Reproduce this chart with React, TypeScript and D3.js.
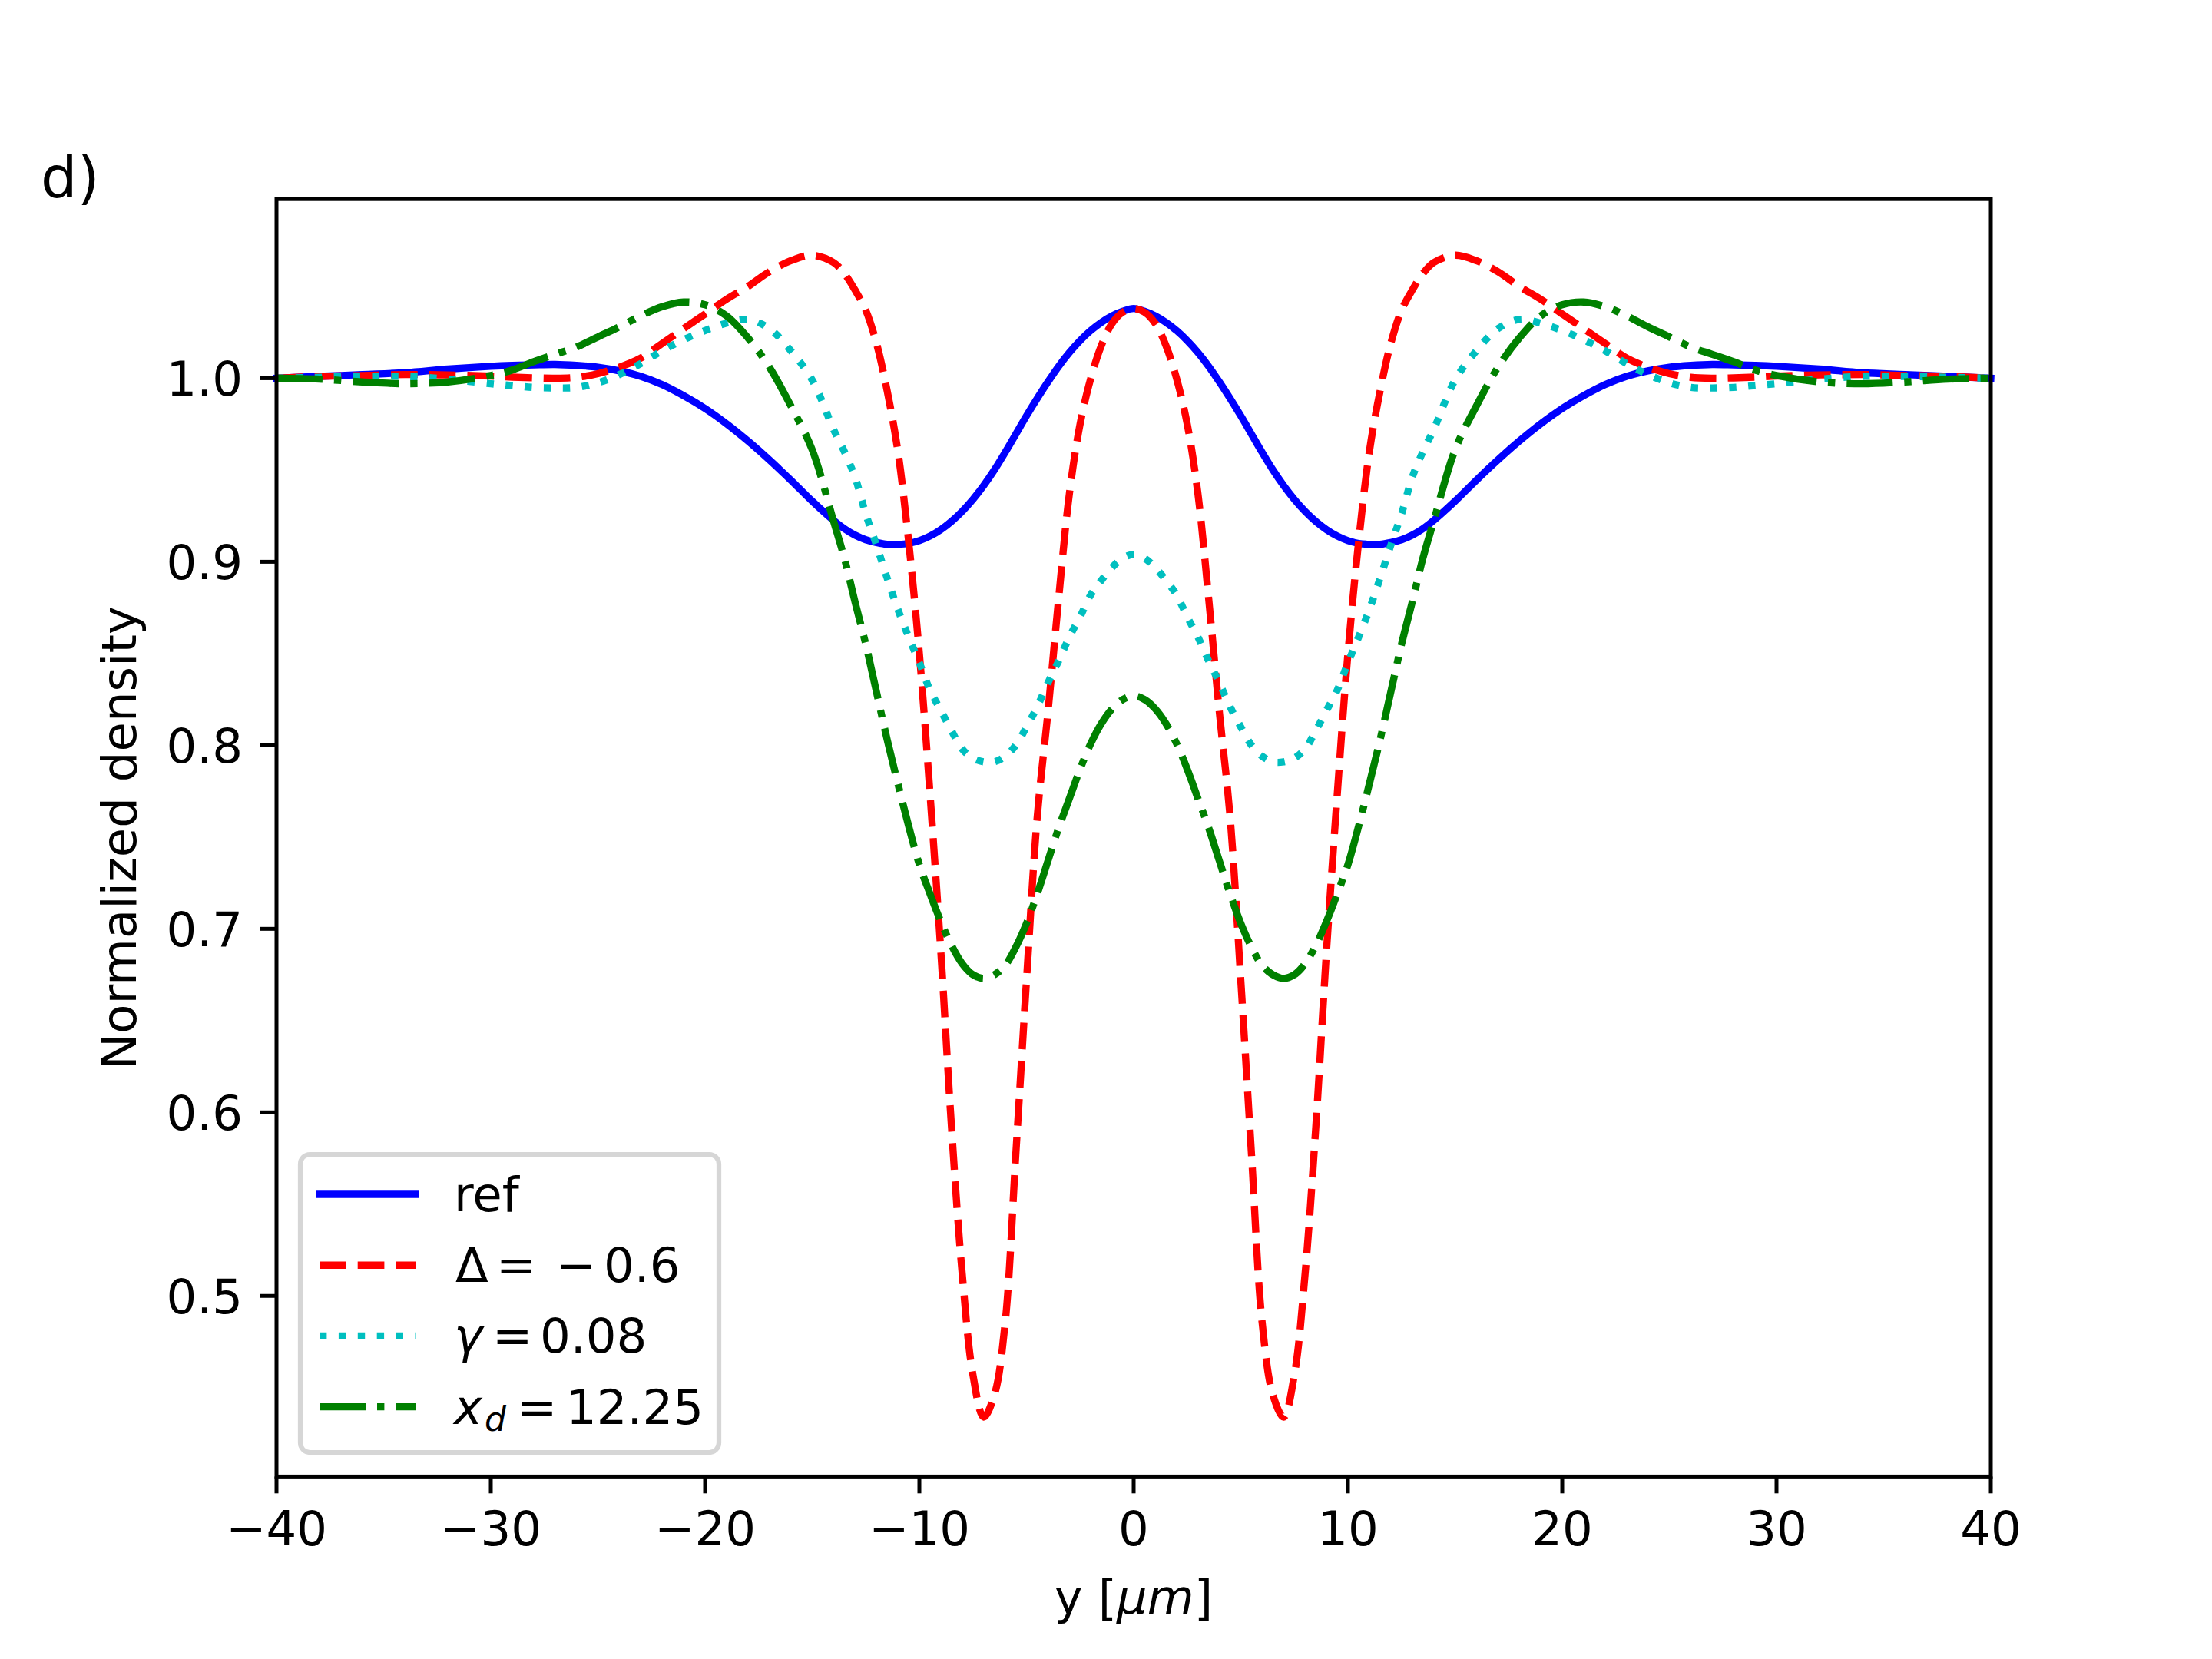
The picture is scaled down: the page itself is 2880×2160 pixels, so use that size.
import React from 'react';
import * as d3 from 'd3';

// y positions [µm]
const positions = [
  -40, -38, -36, -34, -32, -30, -29, -28, -27, -26, -25, -24, -23, -22, -21, -20, -19, -18, -17, -16, -15, -14,
  -13.5, -13, -12.5, -12, -11.5, -11, -10.5, -10, -9.5, -9, -8.5, -8, -7.5, -7, -6.5, -6, -5.5, -5, -4.5, -4,
  -3.5, -3, -2.5, -2, -1.5, -1, -0.5, 0, 0.5, 1, 1.5, 2, 2.5, 3, 3.5, 4, 4.5, 5, 5.5, 6, 6.5, 7, 7.5, 8, 8.5, 9,
  9.5, 10, 10.5, 11, 11.5, 12, 12.5, 13, 13.5, 14, 15, 16, 17, 18, 19, 20, 21, 22, 23, 24, 25, 26, 27, 28, 29, 30,
  32, 34, 36, 38, 40,
];

const refValues = [
  1.0, 1.001, 1.002, 1.003, 1.005, 1.0065, 1.007, 1.0073, 1.0075, 1.007, 1.006, 1.004, 1.001, 0.9965, 0.9905,
  0.9835, 0.9752, 0.9658, 0.9555, 0.9445, 0.933, 0.9225, 0.918, 0.9145, 0.912, 0.9105, 0.9095, 0.9095, 0.91,
  0.9115, 0.914, 0.9175, 0.922, 0.9275, 0.934, 0.9415, 0.95, 0.9595, 0.9695, 0.9795, 0.989, 0.998, 1.0065, 1.014,
  1.0205, 1.026, 1.0305, 1.034, 1.0365, 1.038, 1.0365, 1.034, 1.0305, 1.026, 1.0205, 1.014, 1.0065, 0.998, 0.989,
  0.9795, 0.9695, 0.9595, 0.95, 0.9415, 0.934, 0.9275, 0.922, 0.9175, 0.914, 0.9115, 0.91, 0.9095, 0.9095, 0.9105,
  0.912, 0.9145, 0.918, 0.9225, 0.933, 0.9445, 0.9555, 0.9658, 0.9752, 0.9835, 0.9905, 0.9965, 1.001, 1.004, 1.006,
  1.007, 1.0075, 1.0073, 1.007, 1.0065, 1.005, 1.003, 1.002, 1.001, 1.0,
];

const deltaValues = [
  1.0, 1.001, 1.0015, 1.002, 1.0018, 1.0012, 1.0006, 1.0002, 1.0, 1.0005, 1.0025, 1.006, 1.011, 1.019, 1.027, 1.035,
  1.043, 1.05, 1.058, 1.064, 1.067, 1.063, 1.057, 1.048, 1.037, 1.019, 0.993, 0.96, 0.911, 0.85, 0.773, 0.688,
  0.592, 0.512, 0.457, 0.434, 0.446, 0.485, 0.577, 0.672, 0.761, 0.818, 0.88, 0.937, 0.975, 1.0, 1.018, 1.03,
  1.036, 1.038, 1.036, 1.03, 1.018, 1.0, 0.975, 0.937, 0.88, 0.818, 0.761, 0.672, 0.577, 0.485, 0.446, 0.434,
  0.457, 0.512, 0.592, 0.688, 0.773, 0.85, 0.911, 0.96, 0.993, 1.019, 1.037, 1.048, 1.057, 1.063, 1.067, 1.064,
  1.058, 1.05, 1.043, 1.035, 1.027, 1.019, 1.011, 1.006, 1.0025, 1.0005, 1.0, 1.0002, 1.0006, 1.0012, 1.0018, 1.002,
  1.0015, 1.001, 1.0,
];

const gammaValues = [
  1.0, 1.0005, 1.001, 1.001, 0.9995, 0.997, 0.996, 0.995, 0.9947, 0.995, 0.9975, 1.002, 1.008, 1.015, 1.021, 1.026,
  1.03, 1.032, 1.027, 1.015, 0.999, 0.972, 0.96, 0.946, 0.926, 0.909, 0.891, 0.874, 0.859, 0.845, 0.83, 0.819,
  0.808, 0.798, 0.793, 0.791, 0.791, 0.794, 0.8, 0.81, 0.821, 0.834, 0.846, 0.859, 0.87, 0.882, 0.89, 0.897,
  0.902, 0.904, 0.902, 0.897, 0.89, 0.882, 0.87, 0.859, 0.846, 0.834, 0.821, 0.81, 0.8, 0.794, 0.791, 0.791,
  0.793, 0.798, 0.808, 0.819, 0.83, 0.845, 0.859, 0.874, 0.891, 0.909, 0.926, 0.946, 0.96, 0.972, 0.999, 1.015,
  1.027, 1.032, 1.03, 1.026, 1.021, 1.015, 1.008, 1.002, 0.9975, 0.995, 0.9947, 0.995, 0.996, 0.997, 0.9995, 1.001,
  1.001, 1.0005, 1.0,
];

const xdValues = [
  1.0, 0.9995, 0.998, 0.997, 0.998, 1.0015, 1.0045, 1.009, 1.013, 1.017, 1.0225, 1.028, 1.034, 1.039, 1.0415, 1.04,
  1.034, 1.022, 1.006, 0.985, 0.961, 0.922, 0.902, 0.878, 0.855, 0.829, 0.803, 0.779, 0.756, 0.735, 0.719, 0.704,
  0.691, 0.681, 0.675, 0.673, 0.675, 0.68, 0.69, 0.703, 0.719, 0.737, 0.755, 0.771, 0.787, 0.801, 0.812, 0.82,
  0.825, 0.827, 0.825, 0.82, 0.812, 0.801, 0.787, 0.771, 0.755, 0.737, 0.719, 0.703, 0.69, 0.68, 0.675, 0.673,
  0.675, 0.681, 0.691, 0.704, 0.719, 0.735, 0.756, 0.779, 0.803, 0.829, 0.855, 0.878, 0.902, 0.922, 0.961, 0.985,
  1.006, 1.022, 1.034, 1.04, 1.0415, 1.039, 1.034, 1.028, 1.0225, 1.017, 1.013, 1.009, 1.0045, 1.0015, 0.998, 0.997,
  0.998, 0.9995, 1.0,
];

const xTicks = [-40, -30, -20, -10, 0, 10, 20, 30, 40];
const yTicks = [0.5, 0.6, 0.7, 0.8, 0.9, 1.0];

const FONT = "'DejaVu Sans', sans-serif";
const FS = 62.5; // 10pt at 450 dpi
const LW = 9.375; // 1.5pt

const W = 2880;
const H = 2160;
const left = 360;
const right = 2592;
const top = 259.2;
const bottom = 1922.4;

const series = [
  { values: refValues, color: '#0000ff', dash: undefined as string | undefined },
  { values: deltaValues, color: '#ff0000', dash: '34.7 15' },
  { values: gammaValues, color: '#00bfbf', dash: '9.4 15.5' },
  { values: xdValues, color: '#008000', dash: '60 15 9.4 15' },
];

export default function App() {
  const x = d3.scaleLinear().domain([-40, 40]).range([left, right]);
  const y = d3.scaleLinear().domain([0.4016, 1.0976]).range([bottom, top]);

  const line = d3
    .line<number>()
    .x((_, i) => x(positions[i]))
    .y((d) => y(d))
    .curve(d3.curveCatmullRom.alpha(0.5));

  const fmtX = d3.format('d');
  const fmtY = d3.format('.1f');

  // legend layout
  const lgX = 391;
  const lgY = 1503;
  const rowY = (i: number) => 1555 + i * 92.2;
  const hx1 = 416;
  const hx2 = 541;
  const tx = 591;

  return (
    <svg
      width={W}
      height={H}
      viewBox={`0 0 ${W} ${H}`}
      style={{ position: 'absolute', left: 0, top: 0, background: '#fff' }}
      fontFamily={FONT}
    >
      <rect x={0} y={0} width={W} height={H} fill="#fff" />

      <text x={53} y={257} fontSize={75} fill="#000">d)</text>

      {series.map((s, i) => (
        <path
          key={i}
          d={line(s.values) || ''}
          fill="none"
          stroke={s.color}
          strokeWidth={LW}
          strokeDasharray={s.dash}
          strokeLinejoin="round"
          strokeLinecap={s.dash ? 'butt' : 'square'}
        />
      ))}

      {/* axes frame */}
      <rect x={left} y={top} width={right - left} height={bottom - top} fill="none" stroke="#000" strokeWidth={5} />

      {xTicks.map((t) => (
        <g key={'x' + t}>
          <line x1={x(t)} x2={x(t)} y1={bottom} y2={bottom + 21.9} stroke="#000" strokeWidth={5} />
          <text x={x(t)} y={2012} fontSize={FS} textAnchor="middle" fill="#000">
            {fmtX(t)}
          </text>
        </g>
      ))}
      {yTicks.map((t) => (
        <g key={'y' + t}>
          <line x1={left - 21.9} x2={left} y1={y(t)} y2={y(t)} stroke="#000" strokeWidth={5} />
          <text x={316} y={y(t) + 22.8} fontSize={FS} textAnchor="end" fill="#000">
            {fmtY(t)}
          </text>
        </g>
      ))}

      <text x={(left + right) / 2} y={2101} fontSize={FS} textAnchor="middle" fill="#000">
        y [<tspan fontStyle="italic">μm</tspan>]
      </text>
      <text
        transform={`translate(177, ${(top + bottom) / 2}) rotate(-90)`}
        fontSize={FS}
        textAnchor="middle"
        fill="#000"
      >
        Normalized density
      </text>

      {/* legend */}
      <rect
        x={lgX}
        y={lgY}
        width={545}
        height={388}
        rx={12.5}
        ry={12.5}
        fill="#fff"
        fillOpacity={0.8}
        stroke="#cccccc"
        strokeOpacity={0.8}
        strokeWidth={6.25}
      />
      {series.map((s, i) => (
        <line
          key={'lg' + i}
          x1={hx1}
          x2={hx2}
          y1={rowY(i)}
          y2={rowY(i)}
          stroke={s.color}
          strokeWidth={LW}
          strokeDasharray={s.dash}
          strokeLinecap={s.dash ? 'butt' : 'square'}
        />
      ))}
      <text fontSize={FS} fill="#000" y={rowY(0) + 22}>
        <tspan x={tx}>ref</tspan>
      </text>
      <text fontSize={FS} fill="#000" y={rowY(1) + 22}>
        <tspan x={tx + 2}>Δ</tspan>
        <tspan x={tx + 55}>=</tspan>
        <tspan x={tx + 133}>−</tspan>
        <tspan x={tx + 195}>0.6</tspan>
      </text>
      <text fontSize={FS} fill="#000" y={rowY(2) + 22}>
        <tspan x={tx} fontStyle="italic">γ</tspan>
        <tspan x={tx + 50}>=</tspan>
        <tspan x={tx + 112}>0.08</tspan>
      </text>
      <text fontSize={FS} fill="#000" y={rowY(3) + 22}>
        <tspan x={tx} fontStyle="italic">x</tspan>
      </text>
      <text fontSize={44} fill="#000" y={rowY(3) + 31} fontStyle="italic">
        <tspan x={tx + 40}>d</tspan>
      </text>
      <text fontSize={FS} fill="#000" y={rowY(3) + 22}>
        <tspan x={tx + 82}>=</tspan>
        <tspan x={tx + 146}>12.25</tspan>
      </text>
    </svg>
  );
}
